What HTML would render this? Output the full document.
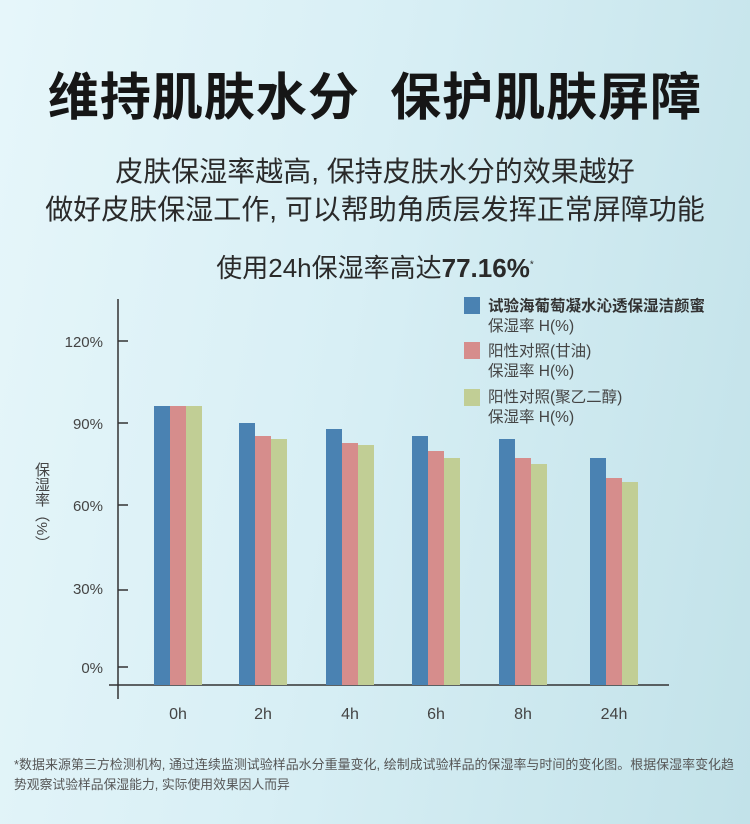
<!DOCTYPE html>
<html><head><meta charset="utf-8"><style>
html,body{margin:0;padding:0}
body{width:750px;height:824px;position:relative;overflow:hidden;
background:linear-gradient(100deg,#e6f6fa 0%,#d8eff5 45%,#c2e2e9 100%);
font-family:"Liberation Sans","Noto Sans CJK SC",sans-serif;color:#222}
.t{position:absolute;left:0;width:750px;text-align:center;white-space:nowrap}
</style></head><body>
<div class="t" style="top:56px;font-size:51px;font-weight:bold;color:#161616;letter-spacing:1px">维持肌肤水分&nbsp;&nbsp;保护肌肤屏障</div>
<div class="t" style="top:153px;font-size:28px;color:#2a2a2a;line-height:38px">皮肤保湿率越高, 保持皮肤水分的效果越好<br>做好皮肤保湿工作, 可以帮助角质层发挥正常屏障功能</div>
<div class="t" style="top:248px;font-size:26px;color:#2a2a2a">使用24h保湿率高达<b>77.16%</b><sup style="font-size:10px">*</sup></div>
<div style="position:absolute;left:32px;top:462px;font-size:15px;color:#444;writing-mode:vertical-rl;line-height:18px">保湿率（%）</div>
<svg width="750" height="824" style="position:absolute;left:0;top:0" font-family="Liberation Sans,Noto Sans CJK SC,sans-serif">
<g stroke="#333" stroke-width="1.5">
<line x1="118" y1="299" x2="118" y2="699"/>
<line x1="109" y1="685" x2="669" y2="685"/>
<line x1="118" y1="341" x2="128" y2="341"/>
<line x1="118" y1="423" x2="128" y2="423"/>
<line x1="118" y1="505" x2="128" y2="505"/>
<line x1="118" y1="590" x2="128" y2="590"/>
<line x1="118" y1="667" x2="128" y2="667"/>
</g>
<g font-size="15" fill="#444" text-anchor="end">
<text x="103" y="347">120%</text><text x="103" y="429">90%</text><text x="103" y="511">60%</text><text x="103" y="594">30%</text><text x="103" y="673">0%</text>
</g>
<g>
<rect x="154" y="406" width="16" height="279" fill="#4a82b2"/><rect x="170" y="406" width="16" height="279" fill="#d68d8c"/><rect x="186" y="406" width="16" height="279" fill="#c1ce95"/>
<rect x="239" y="423" width="16" height="262" fill="#4a82b2"/><rect x="255" y="436" width="16" height="249" fill="#d68d8c"/><rect x="271" y="439" width="16" height="246" fill="#c1ce95"/>
<rect x="326" y="429" width="16" height="256" fill="#4a82b2"/><rect x="342" y="443" width="16" height="242" fill="#d68d8c"/><rect x="358" y="445" width="16" height="240" fill="#c1ce95"/>
<rect x="412" y="436" width="16" height="249" fill="#4a82b2"/><rect x="428" y="451" width="16" height="234" fill="#d68d8c"/><rect x="444" y="458" width="16" height="227" fill="#c1ce95"/>
<rect x="499" y="439" width="16" height="246" fill="#4a82b2"/><rect x="515" y="458" width="16" height="227" fill="#d68d8c"/><rect x="531" y="464" width="16" height="221" fill="#c1ce95"/>
<rect x="590" y="458" width="16" height="227" fill="#4a82b2"/><rect x="606" y="478" width="16" height="207" fill="#d68d8c"/><rect x="622" y="482" width="16" height="203" fill="#c1ce95"/>
</g>
<g font-size="16" fill="#444" text-anchor="middle">
<text x="178" y="719">0h</text><text x="263" y="719">2h</text><text x="350" y="719">4h</text><text x="436" y="719">6h</text><text x="523" y="719">8h</text><text x="614" y="719">24h</text>
</g>
<rect x="464" y="297" width="16" height="17" fill="#4a82b2"/>
<rect x="464" y="342" width="16" height="17" fill="#d68d8c"/>
<rect x="464" y="389" width="16" height="17" fill="#c1ce95"/>
<g font-size="15.5" fill="#444">
<text x="488" y="311" font-weight="bold" fill="#333">试验海葡萄凝水沁透保湿洁颜蜜</text>
<text x="488" y="331">保湿率 H(%)</text>
<text x="488" y="356">阳性对照(甘油)</text>
<text x="488" y="376">保湿率 H(%)</text>
<text x="488" y="402">阳性对照(聚乙二醇)</text>
<text x="488" y="422">保湿率 H(%)</text>
</g>
<g font-size="12.8" fill="#555">
<text x="14" y="769" textLength="720" lengthAdjust="spacingAndGlyphs">*数据来源第三方检测机构, 通过连续监测试验样品水分重量变化, 绘制成试验样品的保湿率与时间的变化图。根据保湿率变化趋</text>
<text x="14" y="789">势观察试验样品保湿能力, 实际使用效果因人而异</text>
</g>
</svg>
</body></html>
